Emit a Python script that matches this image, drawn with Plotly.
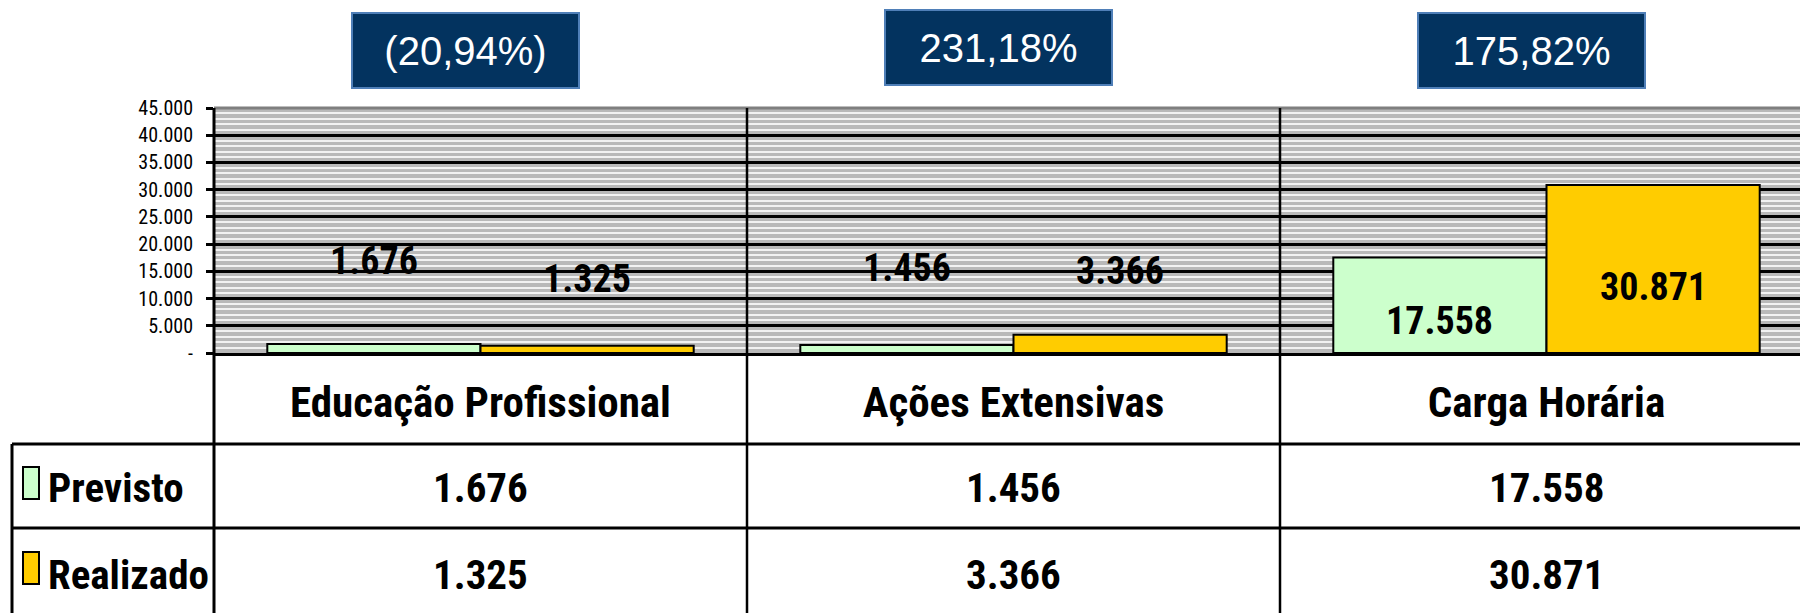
import plotly.graph_objects as go

# ---------------- data ----------------
categories = ["Educação Profissional", "Ações Extensivas", "Carga Horária"]
previsto = [1676, 1456, 17558]
realizado = [1325, 3366, 30871]
pct_labels = ["(20,94%)", "231,18%", "175,82%"]
series_names = ["Previsto", "Realizado"]
y_ticks = [0, 5000, 10000, 15000, 20000, 25000, 30000, 35000, 40000, 45000]
y_tick_labels = ["-", "5.000", "10.000", "15.000", "20.000", "25.000",
                 "30.000", "35.000", "40.000", "45.000"]

# ---------------- styling ----------------
W, H = 1800, 613
L, R, T, B = 214, 0, 108, 260
PW, PH = W - L - R, H - T - B
GREEN, YELLOW = "#CCFFCC", "#FFCC00"
NAVY, NAVY_BORDER = "#03335F", "#4F7FB8"
COND = "Roboto Condensed, Arial Narrow, Liberation Sans Narrow, sans-serif"
ARIAL = "Liberation Sans, Arial, sans-serif"


def px(x):
    return (x - L) / PW


def py(y):
    return (H - B - y) / PH


def fmt(v):
    return f"{v:,}".replace(",", ".")


fig = go.Figure()
fig.add_trace(go.Bar(x=categories, y=previsto, name=series_names[0],
                     marker=dict(color=GREEN, line=dict(color="black", width=2))))
fig.add_trace(go.Bar(x=categories, y=realizado, name=series_names[1],
                     marker=dict(color=YELLOW, line=dict(color="black", width=2))))

cat_w = 533  # pixels per category
bar_off = 0.2 * cat_w
# vertical label shifts (pixels from bar top) replicating the original label placement
label_shift_prev = [83, 77, -64]
label_shift_real = [67, 64, -102]
box_yc = [50, 48, 50]

annotations = []
for i, c in enumerate(categories):
    annotations.append(dict(x=c, y=previsto[i], xref="x", yref="y", xshift=-bar_off,
                            yshift=label_shift_prev[i], text=f"<b>{fmt(previsto[i])}</b>",
                            showarrow=False, yanchor="middle",
                            font=dict(family=COND, size=38, color="black")))
    annotations.append(dict(x=c, y=realizado[i], xref="x", yref="y", xshift=bar_off,
                            yshift=label_shift_real[i], text=f"<b>{fmt(realizado[i])}</b>",
                            showarrow=False, yanchor="middle",
                            font=dict(family=COND, size=38, color="black")))
    # percentage boxes
    annotations.append(dict(x=c, y=py(box_yc[i]), xref="x", yref="paper", xshift=-15,
                            text=pct_labels[i], showarrow=False, width=225, height=73,
                            xanchor="center", yanchor="middle",
                            bgcolor=NAVY, bordercolor=NAVY_BORDER, borderwidth=2, borderpad=0,
                            align="center", valign="middle",
                            font=dict(family=ARIAL, size=40, color="white")))
    # table values
    annotations.append(dict(x=c, y=py(488), xref="x", yref="paper", showarrow=False,
                            text=f"<b>{fmt(previsto[i])}</b>", yanchor="middle",
                            font=dict(family=COND, size=41, color="black")))
    annotations.append(dict(x=c, y=py(575), xref="x", yref="paper", showarrow=False,
                            text=f"<b>{fmt(realizado[i])}</b>", yanchor="middle",
                            font=dict(family=COND, size=41, color="black")))

# legend labels in table
for name, yc in zip(series_names, [488, 575]):
    annotations.append(dict(x=px(46), y=py(yc), xref="paper", yref="paper", showarrow=False,
                            xanchor="left", yanchor="middle", text=f"<b>{name}</b>",
                            font=dict(family=COND, size=41, color="black")))

shapes = []
line = dict(color="black", width=3)
# top border of plot area (gray)
shapes.append(dict(type="line", xref="paper", yref="paper", x0=0, x1=1, y0=1, y1=1,
                   line=dict(color="#7F7F7F", width=3)))
# vertical category separators, extending through the table
for xv in [0.5, 1.5]:
    shapes.append(dict(type="line", xref="x", yref="paper", x0=xv, x1=xv,
                       y0=1, y1=py(H + 5), line=dict(color="black", width=2.5)))
# y axis line extended through the table
shapes.append(dict(type="line", xref="paper", yref="paper", x0=0, x1=0,
                   y0=1, y1=py(H + 5), line=dict(color="black", width=3)))
# table horizontal lines
for yl in [444, 528]:
    shapes.append(dict(type="line", xref="paper", yref="paper", x0=px(12), x1=1.01,
                       y0=py(yl), y1=py(yl), line=line))
# table left border
shapes.append(dict(type="line", xref="paper", yref="paper", x0=px(12), x1=px(12),
                   y0=py(444), y1=py(H + 5), line=line))
# legend swatches
for col, (y0, y1) in zip([GREEN, YELLOW], [(467, 499), (552, 584)]):
    shapes.append(dict(type="rect", xref="paper", yref="paper", x0=px(23), x1=px(39),
                       y0=py(y0), y1=py(y1), fillcolor=col,
                       line=dict(color="black", width=2)))

fig.update_layout(
    width=W, height=H,
    margin=dict(l=L, r=R, t=T, b=B, pad=0),
    paper_bgcolor="white",
    plot_bgcolor="#B9B9B9",
    barmode="group", bargap=0.2, bargroupgap=0,
    showlegend=False,
    annotations=annotations,
    shapes=shapes,
    xaxis=dict(
        type="category", range=[-0.5, -0.5 + PW / cat_w],
        showgrid=False, zeroline=False,
        showline=True, linecolor="black", linewidth=3,
        ticks="", ticklabelstandoff=9,
        tickfont=dict(family=COND, size=43, color="black"),
        tickprefix="<b>", ticksuffix="</b>",
        fixedrange=True,
    ),
    yaxis=dict(
        range=[0, 45000],
        tickvals=y_ticks, ticktext=y_tick_labels,
        showgrid=True, gridcolor="black", gridwidth=2.5,
        minor=dict(dtick=1000, showgrid=True, gridcolor="#F2F2F2", gridwidth=1.5, ticks=""),
        zeroline=False,
        showline=False,
        ticks="outside", ticklen=7, tickwidth=2.5, tickcolor="black",
        ticklabelstandoff=9,
        tickfont=dict(family=COND, size=20, color="black"),
        fixedrange=True,
    ),
)

fig.write_html(
    "out.html",
    config={"displayModeBar": False},
    post_script="document.body.style.margin='0';document.body.style.overflow='hidden';",
)
